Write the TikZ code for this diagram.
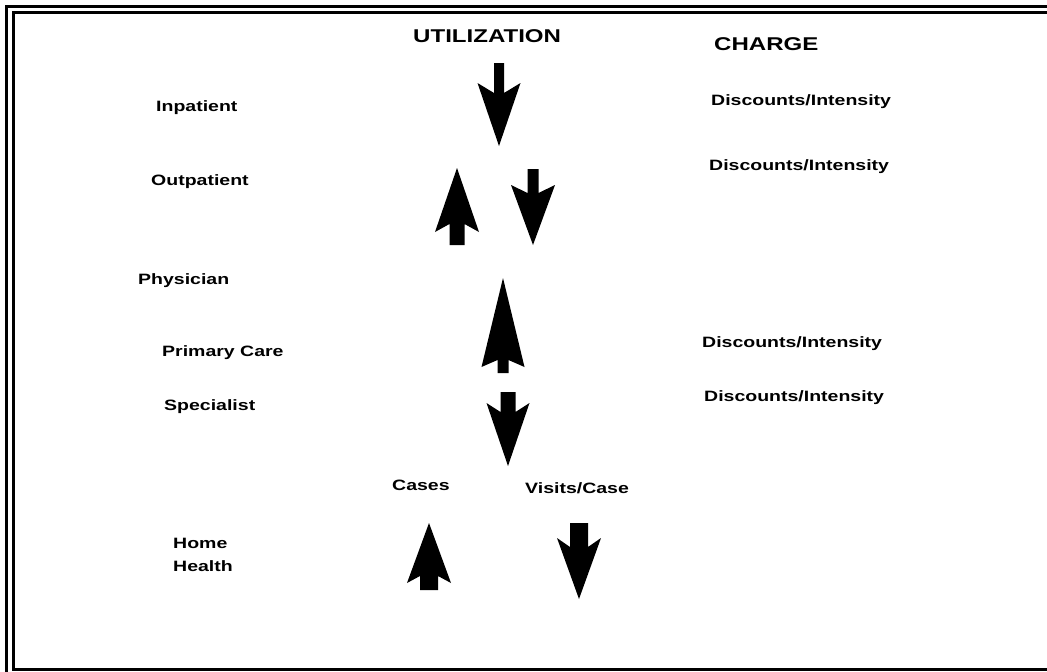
\documentclass[tikz,border=0pt]{standalone}
\usepackage{fontspec}
\setmainfont{Liberation Sans}[FakeStretch=1.3]
\newcommand{\blockarr}[7]{\fill (#1-#6,#2) -- (#1+#6,#2) -- (#1+#6,#4) -- (#1+#7,#3) -- (#1,#5) -- (#1-#7,#3) -- (#1-#6,#4) -- cycle;}
\begin{document}
\begin{tikzpicture}[x={(1pt,0)},y={(0,-1pt)},
  title/.style={anchor=west,inner sep=0,font=\fontsize{18.5}{22}\selectfont\bfseries},
  lbl/.style={anchor=west,inner sep=0,font=\fontsize{15}{23}\selectfont\bfseries,align=left}]
\useasboundingbox (0,0) rectangle (1047,672);
\clip (0,0) rectangle (1047,672);
\draw[line width=3pt](6.5,680)--(6.5,6.5)--(1060,6.5);
\draw[line width=3pt](1060,12.5)--(13.5,12.5)--(13.5,669.5)--(1060,669.5);
\node[title](util)at(413,36){UTILIZATION};
\node[title](charge)at(714,44){CHARGE};
\node[lbl](inpat)at(156,108){Inpatient};
\node[lbl](outpat)at(151,182){Outpatient};
\node[lbl](phys)at(138,281){Physician};
\node[lbl](prim)at(162,353){Primary Care};
\node[lbl](spec)at(164,407){Specialist};
\node[lbl,text width=70pt](home)at(173,555){Home\\Health};
\node[lbl](disc1)at(711,102){Discounts/Intensity};
\node[lbl](disc2)at(709,167){Discounts/Intensity};
\node[lbl](disc3)at(702,344){Discounts/Intensity};
\node[lbl](disc4)at(704,398){Discounts/Intensity};
\node[lbl](cases)at(392,485){Cases};
\node[lbl](visits)at(525,488){Visits/Case};
\blockarr{499}{63}{83}{93}{146}{5}{21.5}
\blockarr{457}{245}{232}{224}{168}{7.5}{22}
\blockarr{533}{169}{185}{193}{245}{5.5}{22}
\blockarr{503}{373}{367}{360}{278}{5.5}{21.5}
\blockarr{508}{392}{403}{412}{466}{7.5}{21.5}
\blockarr{429}{590}{583}{576}{523}{9}{22}
\blockarr{579}{523}{538}{547}{599}{9}{22}
\end{tikzpicture}
\end{document}
